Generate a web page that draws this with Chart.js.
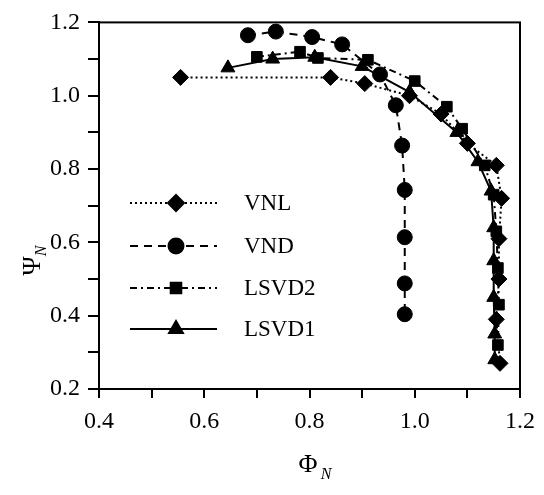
<!DOCTYPE html>
<html>
<head>
<meta charset="utf-8">
<script src="https://cdn.jsdelivr.net/npm/chart.js@4.4.1/dist/chart.umd.min.js"></script>
<style>
  html, body { margin: 0; padding: 0; background: #fff; }
  #wrap { width: 544px; height: 495px; }
</style>
</head>
<body>
<div id="wrap"><canvas id="myChart"></canvas></div>
<script>
// series (phi_N, psi_N)
var seriesNames = ['VNL', 'VND', 'LSVD2', 'LSVD1'];

var vnlX = [0.555, 0.84, 0.905, 0.99, 1.05, 1.10, 1.155, 1.165, 1.16, 1.16, 1.155, 1.162];
var vnlY = [1.05, 1.05, 1.033, 1.00, 0.95, 0.87, 0.81, 0.72, 0.61, 0.50, 0.39, 0.27];

var vndX = [0.683, 0.736, 0.805, 0.862, 0.934, 0.964, 0.976, 0.981, 0.981, 0.981, 0.981];
var vndY = [1.165, 1.175, 1.16, 1.14, 1.058, 0.974, 0.864, 0.743, 0.614, 0.488, 0.404];

var lsvd2X = [0.70, 0.782, 0.816, 0.911, 1.00, 1.061, 1.09, 1.133, 1.15, 1.155, 1.158, 1.16, 1.158];
var lsvd2Y = [1.106, 1.12, 1.103, 1.098, 1.04, 0.97, 0.91, 0.81, 0.73, 0.63, 0.53, 0.43, 0.32];

var lsvd1X = [0.645, 0.73, 0.81, 0.90, 0.99, 1.08, 1.12, 1.145, 1.15, 1.15, 1.15, 1.152, 1.152];
var lsvd1Y = [1.076, 1.10, 1.105, 1.08, 1.01, 0.90, 0.82, 0.74, 0.64, 0.55, 0.45, 0.35, 0.28];

var xTicks = [0.4, 0.6, 0.8, 1.0, 1.2];
var yTicks = [0.2, 0.4, 0.6, 0.8, 1.0, 1.2];

function pairs(xs, ys) {
  return xs.map(function (x, i) { return { x: x, y: ys[i] }; });
}

Chart.defaults.font.family = "'Liberation Serif', 'DejaVu Serif', serif";
Chart.defaults.color = '#000';

var styles = [
  { dash: [2, 3], point: 'rectRot', r: 8 },
  { dash: [8, 6], point: 'circle', r: 7.5 },
  { dash: [7, 4, 2, 4], point: 'rect', r: 7.5 },
  { dash: [], point: 'triangle', r: 8 }
];
var allData = [pairs(vnlX, vnlY), pairs(vndX, vndY), pairs(lsvd2X, lsvd2Y), pairs(lsvd1X, lsvd1Y)];

var datasets = seriesNames.map(function (name, i) {
  return {
    label: name,
    data: allData[i],
    showLine: true,
    borderColor: '#000',
    backgroundColor: '#000',
    borderWidth: 2,
    borderDash: styles[i].dash,
    pointStyle: styles[i].point,
    pointRadius: styles[i].r,
    pointBorderWidth: 1,
    tension: 0
  };
});

function keepLabel(list) {
  return function (v) {
    for (var k = 0; k < list.length; k++) {
      if (Math.abs(list[k] - v) < 1e-6) return v.toFixed(1);
    }
    return '';
  };
}

// frame round the plot, legend inside, axis titles with subscripts
var extras = {
  id: 'extras',
  afterDraw: function (chart) {
    var ctx = chart.ctx, a = chart.chartArea;
    ctx.save();
    ctx.strokeStyle = '#000';
    ctx.lineWidth = 2;
    ctx.setLineDash([]);
    ctx.strokeRect(a.left, a.top, a.right - a.left, a.bottom - a.top);

    var rows = [203, 246, 288, 329];
    chart.data.datasets.forEach(function (ds, i) {
      var y = rows[i];
      ctx.beginPath();
      ctx.setLineDash(ds.borderDash);
      ctx.lineWidth = 2;
      ctx.moveTo(130, y);
      ctx.lineTo(217, y);
      ctx.stroke();
      ctx.setLineDash([]);
      Chart.helpers.drawPoint(ctx, {
        pointStyle: ds.pointStyle, radius: ds.pointRadius, rotation: 0, borderWidth: 1
      }, 176, y);
      ctx.fillStyle = '#000';
      ctx.font = "23px 'Liberation Serif'";
      ctx.textBaseline = 'middle';
      ctx.textAlign = 'left';
      ctx.fillText(ds.label, 244, y + 1);
    });

    // x title
    ctx.font = "26px 'Liberation Serif'";
    ctx.textAlign = 'center';
    ctx.textBaseline = 'alphabetic';
    ctx.fillText('\u03A6', 308, 472);
    ctx.font = "italic 16px 'Liberation Serif'";
    ctx.fillText('N', 326, 479);

    // y title, rotated
    ctx.translate(40, 266);
    ctx.rotate(-Math.PI / 2);
    ctx.font = "26px 'Liberation Serif'";
    ctx.fillText('\u03A8', 0, 0);
    ctx.font = "italic 16px 'Liberation Serif'";
    ctx.fillText('N', 15, 6);
    ctx.restore();
  }
};

var ctx = document.getElementById('myChart').getContext('2d');
var myChart = new Chart(ctx, {
  type: 'scatter',
  data: { datasets: datasets },
  options: {
    responsive: true,
    maintainAspectRatio: false,
    animation: false,
    layout: { padding: { top: 17, right: 24, left: 0, bottom: 0 } },
    plugins: {
      legend: { display: false },
      tooltip: { enabled: false }
    },
    scales: {
      x: {
        type: 'linear',
        min: 0.4,
        max: 1.2,
        afterFit: function (s) { s.height = 106; },
        ticks: {
          stepSize: 0.1,
          autoSkip: false,
          maxRotation: 0,
          padding: 9,
          font: { size: 24 },
          callback: keepLabel(xTicks)
        },
        grid: { drawOnChartArea: false, tickLength: 9, color: '#000', lineWidth: 2 },
        border: { color: '#000', width: 2 }
      },
      y: {
        type: 'linear',
        min: 0.2,
        max: 1.2,
        afterFit: function (s) { s.width = 99; },
        ticks: {
          stepSize: 0.1,
          autoSkip: false,
          padding: 8,
          font: { size: 24 },
          callback: keepLabel(yTicks)
        },
        grid: { drawOnChartArea: false, tickLength: 11, color: '#000', lineWidth: 2 },
        border: { color: '#000', width: 2 }
      }
    }
  },
  plugins: [extras]
});
</script>
</body>
</html>
